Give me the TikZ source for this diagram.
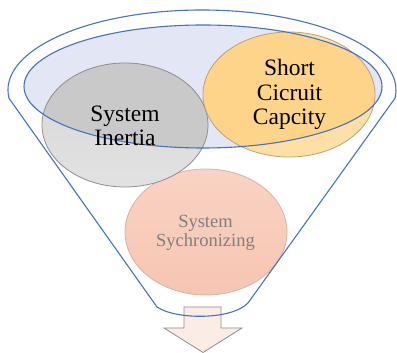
\documentclass[tikz,border=0pt]{standalone}
\usepackage{fontspec}
\setmainfont{Liberation Serif}
\newfontfamily\timesfont{Liberation Serif}
\definecolor{funnelblue}{HTML}{4472C4}
\definecolor{lavender}{HTML}{E3E6F4}
\definecolor{grayout}{HTML}{D6D6D6}
\definecolor{grayoutb}{HTML}{E2E2E2}
\definecolor{grayin}{HTML}{C9C9C9}
\definecolor{grayline}{HTML}{8E8E8E}
\definecolor{orangeout}{HTML}{FEE0A6}
\definecolor{orangein}{HTML}{FDD48A}
\definecolor{orangeline}{HTML}{B9A27A}
\definecolor{pinktop}{HTML}{F9D3C4}
\definecolor{pinkbot}{HTML}{F7C5B2}
\definecolor{pinkline}{HTML}{D6B2A2}
\definecolor{arrowfill}{HTML}{FCECE6}
\definecolor{arrowline}{HTML}{8C8C8C}
\definecolor{softtext}{HTML}{7F7F7F}
\tikzset{
  funnelline/.style={draw=funnelblue, line width=1.1pt, line join=round},
  bubble/.style={line width=0.8pt},
  bigtext/.style={font=\timesfont\fontsize{23.5}{24.5}\selectfont, align=center, inner sep=0pt, text=black},
  smalltext/.style={font=\timesfont\fontsize{18.5}{19.5}\selectfont, align=center, inner sep=0pt, text=softtext},
}
\begin{document}
\begin{tikzpicture}[x=1pt,y=1pt]
\useasboundingbox (0,0) rectangle (397,353);
% arrow below the funnel
\draw[fill=arrowfill, draw=arrowline, line width=0.8pt, line join=miter]
  (184,46) -- (221,46) -- (221,25) -- (242,25) -- (203,0.5) -- (164,25) -- (184,25) -- cycle;
% inner lavender ellipse fill
\fill[lavender] (203,266.5) ellipse[x radius=179, y radius=61.5];
% bubbles (outside parts)
\shade[top color=pinktop, bottom color=pinkbot] (206,121) ellipse[x radius=81, y radius=63];
\draw[bubble, draw=pinkline] (206,121) ellipse[x radius=81, y radius=63];
\shade[top color=grayout, bottom color=grayoutb] (125,228) ellipse[x radius=83, y radius=62];
\shade[top color=orangeout, bottom color=orangeout] (289,258.5) ellipse[x radius=86, y radius=62.5];
% darker parts inside the lavender ellipse
\begin{scope}
  \clip (203,266.5) ellipse[x radius=179, y radius=61.5];
  \fill[grayin] (125,228) ellipse[x radius=83, y radius=62];
  \fill[orangein] (289,258.5) ellipse[x radius=86, y radius=62.5];
\end{scope}
\draw[bubble, draw=grayline] (125,228) ellipse[x radius=83, y radius=62];
\draw[bubble, draw=orangeline] (289,258.5) ellipse[x radius=86, y radius=62.5];
% inner ellipse outline
\draw[funnelline] (203,266.5) ellipse[x radius=179, y radius=61.5];
% funnel outline
\draw[funnelline] (157,46) -- (9.06,254.64)
  arc[start angle=186, end angle=-6, x radius=194, y radius=80]
  -- (248,50) .. controls (232,33) and (176,33) .. (157,46) -- cycle;
% texts
\node[bigtext] (inertia) at (125,227) {System\\Inertia};
\node[bigtext] (short) at (289.5,258.5) {Short\\Cicruit\\Capcity};
\node[smalltext] (sync) at (205.5,120) {System\\Sychronizing};
\end{tikzpicture}
\end{document}
